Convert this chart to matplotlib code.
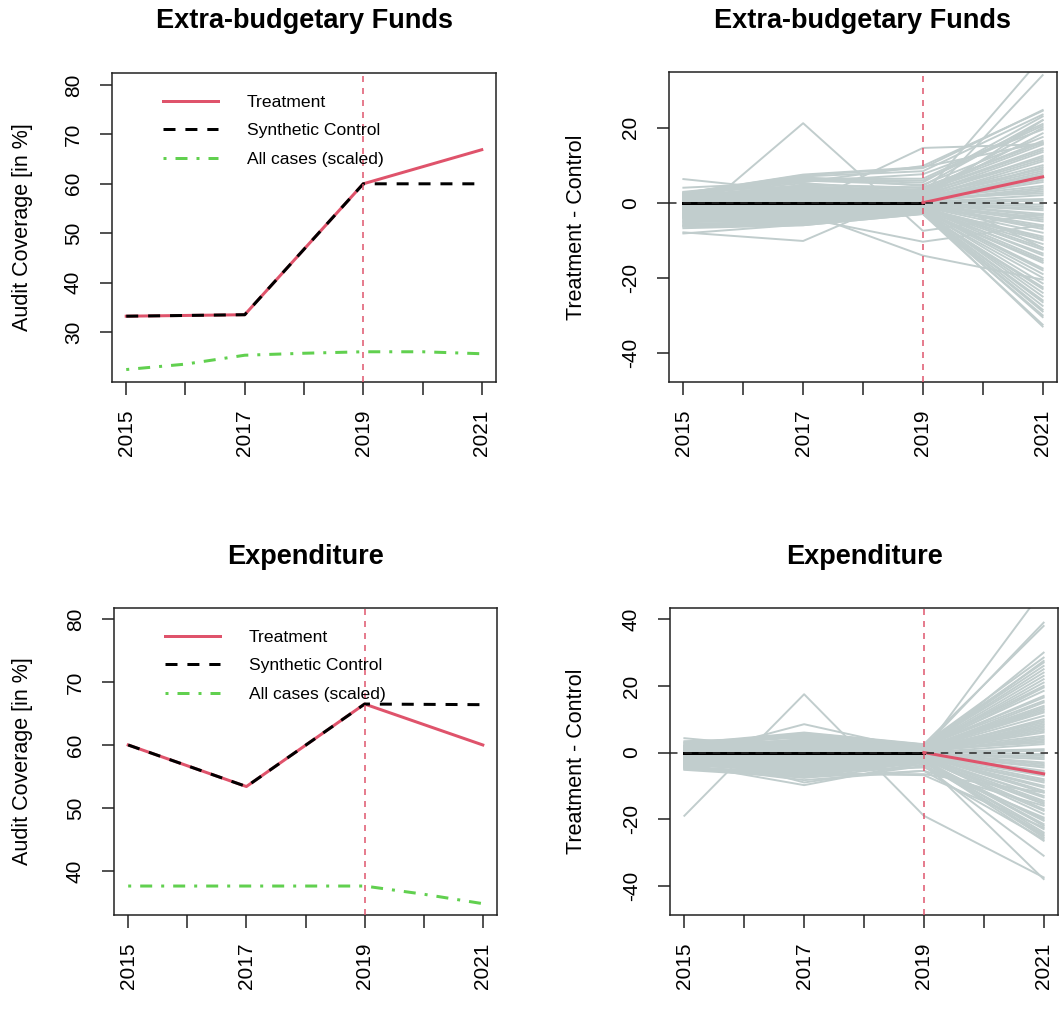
import numpy as np
import matplotlib
matplotlib.use("Agg")
import matplotlib.pyplot as plt
from matplotlib.lines import Line2D

plt.rcParams["font.family"] = ["Liberation Sans", "DejaVu Sans"]
plt.rcParams["axes.unicode_minus"] = False

RED = "#DF536B"
GREEN = "#61D04F"
GREY = "#C1CDCD"
W, H = 1063, 1013

years = [2015, 2017, 2019, 2021]
all_years = [2015, 2016, 2017, 2018, 2019, 2020, 2021]
treat_year = 2019

# Extra-budgetary funds
ebf_treated = [33.2, 33.5, 60.0, 66.9]
ebf_synth = [33.2, 33.5, 60.0, 60.0]
ebf_all_scaled = [22.4, 23.5, 25.3, 25.7, 26.0, 26.0, 25.6]

# Expenditure
exp_treated = [60.0, 53.4, 66.5, 60.0]
exp_synth = [60.0, 53.4, 66.5, 66.4]
exp_all_scaled = [37.6, 37.6, 37.6, 37.6, 37.6, 36.3, 34.8]

# placebo gaps (treatment - control), one entry per placebo unit
ebf_gap_2015 = [
    -6.0, -7.9, -1.0, -3.5, -4.0, 1.0, 0.5, 6.3, 4.0, -8.2, 2.5, -6.8,
    2.8, -1.2, 0.4, -3.6, 1.9, -0.5, -5.2, 0.9, -2.3, 2.2, -4.1, 0.1,
    -1.8, 1.4, -6.1, -0.2, 2.6, -2.9, 0.6, -4.7, 1.1, -1.5, -0.8, -3.2,
    0.3, -5.6, 1.7, -2.0, -0.4, 2.4, -3.9, 0.8, -1.1, -6.4, 1.3, -2.6,
    -0.6, 0.2, -4.4, 2.0, -1.4, -3.0, 0.5, -5.9, 1.6, -0.9, -2.1, 2.9,
    -3.4, 0.0, -1.7, 1.0, -4.9, -0.3, 2.3, -2.8, 0.7, -5.4, -1.0, 1.5,
    -2.4, -0.1, -3.7, 1.2, -1.3, -6.3, 0.4, -2.5, 2.1, -0.7, -4.3, 0.9,
    -1.9, 1.8, -3.3, -0.5, 0.6, -5.0,
]
ebf_gap_2017 = [
    21.2, -10.2, -0.5, -4.0, -2.5, 1.5, -0.8, 3.0, 5.5, -5.8, 7.5, -6.0,
    4.5, -2.0, 1.2, -5.5, 6.8, 0.3, -3.4, 3.1, -1.0, 5.2, -4.6, 2.0,
    -0.4, 3.8, -5.9, 1.7, 7.3, -2.8, 0.8, -4.0, 2.6, -1.6, 4.9, -3.1,
    1.4, -5.1, 6.1, -0.9, 2.3, 5.6, -3.7, 0.5, -1.9, -6.0, 3.3, -2.4,
    0.0, 2.9, -4.4, 6.5, -1.3, -3.0, 1.9, -5.4, 4.2, -0.6, -2.2, 5.9,
    -3.5, 1.0, -1.5, 3.6, -4.9, 0.2, 7.0, -2.6, 2.4, -5.7, -0.2, 4.0,
    -2.0, 0.7, -3.9, 3.0, -1.1, -5.2, 1.5, -2.9, 6.3, -0.8, -4.2, 2.7,
    -1.4, 4.6, -3.2, 0.4, 1.1, -4.8,
]
ebf_gap_2019 = [
    -7.5, 3.5, 14.6, -10.4, -14.1, 2.0, 0.0, 1.0, 9.8, -2.5, 9.5, -3.0,
    2.1, -1.0, 0.6, -2.4, 4.5, 0.1, -1.8, 1.5, -0.5, 3.2, -2.9, 0.9,
    -0.2, 2.6, -2.2, 1.1, 9.2, -1.4, 0.4, -2.7, 1.8, -0.8, 3.9, -1.6,
    0.7, -2.5, 5.4, -0.3, 1.3, 7.6, -2.0, 0.2, -1.1, -3.0, 2.4, -1.3,
    0.0, 1.7, -2.6, 6.4, -0.7, -1.9, 1.0, -2.8, 3.5, -0.4, -1.5, 4.8,
    -2.1, 0.5, -0.9, 2.8, -2.3, 0.3, 8.4, -1.2, 1.4, -2.7, -0.1, 3.0,
    -1.7, 0.8, -2.4, 2.2, -0.6, -2.9, 1.2, -1.4, 5.9, -0.5, -2.0, 1.9,
    -1.0, 4.1, -2.2, 0.4, 0.9, -2.6,
]
ebf_gap_2021 = [
    -3.0, -12.0, 15.6, -6.0, -20.5, 39.0, 34.0, 22.0, 24.5, -33.0, 16.0, -30.0,
    18.5, -12.0, 5.5, -24.0, 22.0, 2.0, -17.5, 11.0, -4.5, 14.5, -28.5, 8.0,
    -1.0, 20.0, -21.5, 6.5, 24.7, -9.5, 3.5, -26.0, 12.5, -6.0, 16.5, -15.0,
    9.5, -30.5, 23.0, -3.0, 7.0, 19.5, -19.0, 1.0, -8.0, -32.5, 13.5, -11.0,
    0.5, 10.0, -23.0, 21.0, -5.0, -13.5, 4.5, -27.5, 15.5, -2.0, -10.0, 17.5,
    -16.0, 3.0, -7.0, 12.0, -25.0, -0.5, 23.5, -14.0, 8.5, -29.0, -3.5, 14.0,
    -9.0, 6.0, -20.0, 11.5, -4.0, -22.5, 2.5, -12.5, 20.5, -1.5, -18.0, 9.0,
    -6.5, 16.0, -15.5, 4.0, 7.5, -26.5,
]

exp_gap_2015 = [
    -19.0, -1.0, -5.0, -3.5, 0.5, 2.0, 1.0, 4.3, -5.2, 3.0,
    2.2, -1.0, 0.3, -3.1, 1.6, -0.4, -4.2, 0.8, -2.0, 3.4, -3.6, 0.1,
    -1.5, 1.2, -4.6, -0.2, 2.7, -2.4, 0.5, -3.9, 1.0, -1.2, -0.7, -2.8,
    0.2, -4.4, 1.5, -1.7, -0.3, 2.0, -3.3, 0.7, -0.9, -4.0, 1.1, -2.2,
    -0.5, 0.4, -3.7, 1.8, -1.1, -2.6, 0.6, -4.8, 1.3, -0.8, -1.8, 3.0,
    -2.9, 0.0, -1.4, 0.9, -3.5, -0.2, 2.4, -2.3, 0.6, -4.3, -0.9, 1.4,
    -2.0, -0.1, -3.0, 1.0, -1.1, -4.5, 0.3, -2.1, 1.9, -0.6, -3.4, 0.8,
    -1.6, 1.7, -2.7, -0.4, 0.5, -3.8,
]
exp_gap_2017 = [
    17.5, 8.5, -6.5, -9.8, -9.0, 5.0, 3.5, 1.0, -7.5, 4.8,
    3.8, -2.4, 1.0, -6.5, 5.6, 0.2, -4.0, 2.7, -1.2, 4.6, -5.5, 1.6,
    -0.5, 3.2, -7.2, 1.4, 6.0, -3.3, 0.7, -4.8, 2.2, -1.9, 4.2, -3.6,
    1.2, -6.1, 5.1, -1.0, 2.0, 4.9, -4.4, 0.4, -2.2, -8.3, 2.9, -2.8,
    0.0, 2.4, -5.2, 5.3, -1.5, -3.5, 1.7, -6.8, 3.6, -0.7, -2.6, 4.4,
    -4.1, 0.9, -1.8, 3.0, -5.8, 0.1, 5.8, -3.1, 2.1, -7.6, -0.3, 3.4,
    -2.4, 0.6, -4.6, 2.6, -1.3, -6.3, 1.3, -3.4, 5.0, -1.0, -5.0, 2.3,
    -1.7, 3.9, -3.8, 0.3, 0.9, -5.6,
]
exp_gap_2019 = [
    -19.0, 0.5, -6.5, -3.0, -4.0, 1.5, 2.5, 0.8, -5.5, 1.0,
    1.6, -0.8, 0.4, -2.2, 2.3, 0.0, -1.6, 1.1, -0.5, 2.0, -2.6, 0.7,
    -0.2, 1.8, -3.0, 0.8, 2.5, -1.3, 0.3, -2.4, 1.3, -0.7, 1.9, -1.5,
    0.5, -2.8, 2.1, -0.3, 0.9, 1.5, -1.9, 0.1, -1.0, -5.5, 1.2, -1.2,
    0.0, 1.0, -2.3, 2.2, -0.6, -1.7, 0.7, -2.9, 1.7, -0.4, -1.4, 1.4,
    -2.0, 0.4, -0.9, 1.5, -4.5, 0.2, 2.4, -1.1, 1.0, -3.6, -0.1, 1.9,
    -1.5, 0.6, -2.5, 1.3, -0.6, -6.8, 0.8, -1.3, 2.0, -0.5, -2.1, 1.1,
    -0.9, 1.6, -2.0, 0.3, 0.6, -2.7,
]
exp_gap_2021 = [
    -37.5, 49.0, -12.0, -38.0, -31.0, 39.0, 38.0, 30.0, -26.0, 27.5,
    21.0, -11.5, 6.0, -22.0, 26.0, 2.5, -17.0, 12.0, -4.0, 16.5, -25.5, 8.5,
    -1.5, 23.0, -20.0, 7.0, 28.5, -9.0, 4.0, -24.0, 13.5, -6.5, 18.5, -14.5,
    10.0, -26.5, 25.0, -3.0, 7.5, 22.0, -18.5, 1.0, -8.0, -16.0, 15.0, -10.5,
    0.5, 11.0, -21.5, 24.0, -5.5, -13.0, 5.0, -23.0, 17.0, -2.0, -10.0, 19.5,
    -15.5, 3.5, -7.0, 13.0, -19.5, -0.5, 27.0, -12.0, 9.5, -24.5, -3.5, 15.5,
    -8.5, 6.5, -20.5, 12.5, -4.5, -22.5, 3.0, -13.5, 20.0, -1.0, -17.5, 9.0,
    -6.0, 14.0, -15.0, 4.5, 8.0, -25.0,
]

LW_THICK = 2.16   # ~3 px
LW_THIN = 1.08    # ~1.5 px
LW_GREY = 1.4
SYNTH_DASH = (0, (4.0, 3.3))
ALL_DASH = (0, (1.0, 3.0, 4.0, 3.0))


def px_axes(fig, left, top, right, bottom):
    """
    Adds axes placed by pixel edges.
    """
    return fig.add_axes([left / W, 1 - bottom / H, (right - left) / W, (bottom - top) / H])


def style_axes(ax, ylim, yticks):
    """
    R base-graphics look: boxed axes, rotated tick labels.
    """
    ax.set_xlim(2014.76, 2021.24)
    ax.set_ylim(*ylim)
    ax.set_xticks(all_years)
    ax.set_xticklabels([str(y) if y % 2 else "" for y in all_years])
    ax.set_yticks(yticks)
    ax.tick_params(axis="x", labelrotation=90, length=9, width=1.1, pad=11,
                   labelsize=15, color="#222222")
    ax.tick_params(axis="y", labelrotation=90, length=9, width=1.1, pad=12,
                   labelsize=15, color="#222222")
    for lab in ax.get_yticklabels():
        lab.set_va("center")
    for s in ax.spines.values():
        s.set_linewidth(1.1)
        s.set_color("#222222")


def level_panel(ax, treated, synth, all_scaled, ylim, yticks):
    """
    Treatment vs synthetic control levels.
    """
    ax.plot(years, treated, color=RED, lw=LW_THICK, zorder=3)
    ax.plot(years, synth, color="black", lw=LW_THICK, linestyle=SYNTH_DASH, zorder=4)
    ax.plot(all_years, all_scaled, color=GREEN, lw=LW_THICK, linestyle=ALL_DASH, zorder=3)
    ax.axvline(treat_year, color=RED, lw=LW_THIN, linestyle=(0, (4, 4)), zorder=5)
    style_axes(ax, ylim, yticks)
    handles = [
        Line2D([], [], color=RED, lw=LW_THICK),
        Line2D([], [], color="black", lw=LW_THICK, linestyle=SYNTH_DASH),
        Line2D([], [], color=GREEN, lw=LW_THICK, linestyle=ALL_DASH),
    ]
    ax.legend(handles, ["Treatment", "Synthetic Control", "All cases (scaled)"],
              loc="upper left", bbox_to_anchor=(0.133, 0.93), frameon=False,
              fontsize=12.6, handlelength=3.15, handletextpad=1.65,
              labelspacing=0.76, borderpad=0, borderaxespad=0)


def gap_panel(ax, placebo, treated, synth, ylim, yticks):
    """
    Placebo gaps in grey, treated unit gap on top.
    """
    ax.plot(years, np.array(placebo), color=GREY, lw=LW_GREY, zorder=1)
    gap = np.array(treated) - np.array(synth)
    pre = [i for i, y in enumerate(years) if y <= treat_year]
    post = [i for i, y in enumerate(years) if y >= treat_year]
    ax.plot([years[i] for i in pre], gap[pre], color="black", lw=LW_THICK, zorder=3)
    ax.plot([years[i] for i in post], gap[post], color=RED, lw=LW_THICK, zorder=3)
    ax.axhline(0, color="#222222", lw=LW_THIN, linestyle=(0, (5, 4.5)), zorder=4)
    ax.axvline(treat_year, color=RED, lw=LW_THIN, linestyle=(0, (4, 4)), zorder=5)
    style_axes(ax, ylim, yticks)


fig = plt.figure(figsize=(W / 100, H / 100), dpi=100)

ax_tl = px_axes(fig, 112, 73, 496, 382)
ax_tr = px_axes(fig, 669, 72, 1057, 382)
ax_bl = px_axes(fig, 114, 608, 497, 915)
ax_br = px_axes(fig, 670, 608, 1058, 915)

level_panel(ax_tl, ebf_treated, ebf_synth, ebf_all_scaled, (19.88, 82.43), [30, 40, 50, 60, 70, 80])
level_panel(ax_bl, exp_treated, exp_synth, exp_all_scaled, (33.0, 81.75), [40, 50, 60, 70, 80])
gap_panel(ax_tr, [ebf_gap_2015, ebf_gap_2017, ebf_gap_2019, ebf_gap_2021],
          ebf_treated, ebf_synth, (-47.8, 34.85), [-40, -20, 0, 20])
gap_panel(ax_br, [exp_gap_2015, exp_gap_2017, exp_gap_2019, exp_gap_2021],
          exp_treated, exp_synth, (-48.8, 43.4), [-40, -20, 0, 20, 40])

# titles and y labels placed in figure pixels
for ax, title, base in [(ax_tl, "Extra-budgetary Funds", 28), (ax_tr, "Extra-budgetary Funds", 28),
                        (ax_bl, "Expenditure", 564), (ax_br, "Expenditure", 564)]:
    box = ax.get_position()
    fig.text(box.x0 + box.width / 2, 1 - base / H, title, ha="center", va="baseline",
             fontsize=19.5, fontweight="bold")

for ax, label, xpx in [(ax_tl, "Audit Coverage [in %]", 23), (ax_bl, "Audit Coverage [in %]", 23),
                       (ax_tr, "Treatment - Control", 576), (ax_br, "Treatment - Control", 576)]:
    box = ax.get_position()
    fig.text(xpx / W, box.y0 + box.height / 2, label, rotation=90, ha="center", va="center",
             fontsize=15.5)

fig.savefig("out.png", dpi=100)
